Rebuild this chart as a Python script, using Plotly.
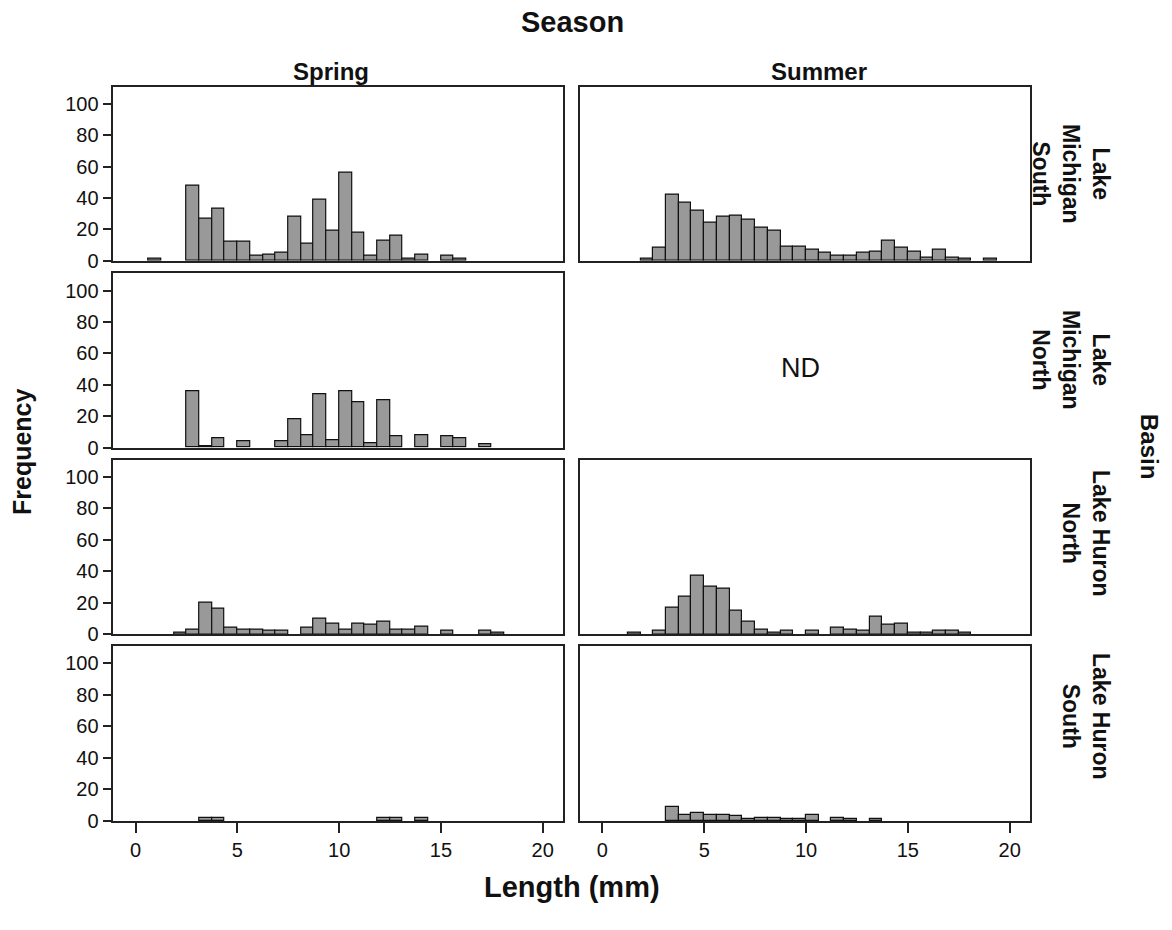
import plotly.graph_objects as go
from plotly.subplots import make_subplots

# ---------------- data ----------------
# lower edges of the length bins (mm), bin width 0.625 mm
bin_lower = [0.0, 0.625, 1.25, 1.875, 2.5, 3.125, 3.75, 4.375,
             5.0, 5.625, 6.25, 6.875, 7.5, 8.125, 8.75, 9.375,
             10.0, 10.625, 11.25, 11.875, 12.5, 13.125, 13.75, 14.375,
             15.0, 15.625, 16.25, 16.875, 17.5, 18.125, 18.75, 19.375]
bin_width = 0.625

seasons = ["Spring", "Summer"]
basins = ["Lake<br>Michigan<br>South", "Lake<br>Michigan<br>North",
          "Lake Huron<br>North", "Lake Huron<br>South"]

spring_lm_south = [0, 1, 0, 0, 48, 27, 33, 12, 12, 3, 4, 5, 28, 11, 39, 19,
                   56, 18, 3, 13, 16, 1, 4, 0, 3, 1, 0, 0, 0, 0, 0, 0]
summer_lm_south = [0, 0, 0, 1, 8, 42, 37, 32, 24, 28, 29, 26, 21, 19, 9, 9,
                   7, 5, 3, 3, 5, 6, 13, 8, 6, 2, 7, 2, 1, 0, 1, 0]
spring_lm_north = [0, 0, 0, 0, 36, 1, 6, 0, 4, 0, 0, 4, 18, 8, 34, 5,
                   36, 29, 3, 30, 7, 0, 8, 0, 7, 6, 0, 2, 0, 0, 0, 0]
summer_lm_north = None  # no data (ND)
spring_lh_north = [0, 0, 0, 1, 3, 20, 16, 4, 3, 3, 2, 2, 0, 4, 10, 7,
                   3, 7, 6, 8, 3, 3, 5, 0, 2, 0, 0, 2, 1, 0, 0, 0]
summer_lh_north = [0, 0, 1, 0, 2, 17, 24, 37, 30, 29, 15, 8, 3, 1, 2, 0,
                   2, 0, 4, 3, 2, 11, 6, 7, 1, 1, 2, 2, 1, 0, 0, 0]
spring_lh_south = [0, 0, 0, 0, 0, 2, 2, 0, 0, 0, 0, 0, 0, 0, 0, 0,
                   0, 0, 0, 2, 2, 0, 2, 0, 0, 0, 0, 0, 0, 0, 0, 0]
summer_lh_south = [0, 0, 0, 0, 0, 9, 4, 5, 4, 4, 3, 1, 2, 2, 1, 1,
                   4, 0, 2, 1, 0, 1, 0, 0, 0, 0, 0, 0, 0, 0, 0, 0]

x_ticks = [0, 5, 10, 15, 20]
y_ticks = [0, 20, 40, 60, 80, 100]

panel_counts = [
    [spring_lm_south, summer_lm_south],
    [spring_lm_north, summer_lm_north],
    [spring_lh_north, summer_lh_north],
    [spring_lh_south, summer_lh_south],
]

# ---------------- figure ----------------
W, H = 1172, 930
HY = 919.0  # vertical extent used to convert pixel targets to paper fractions
FONT = "Liberation Sans, Arial, sans-serif"
INK = "#111111"

fig = make_subplots(rows=4, cols=2)

col_px = [(113.3, 563.0), (580.0, 1030.0)]
row_px = [(86.7, 260.7), (273.3, 447.7), (459.7, 634.3), (646.0, 821.0)]

for r in range(4):
    for c in range(2):
        counts = panel_counts[r][c]
        if counts is not None:
            xs = [b for b, n in zip(bin_lower, counts) if n > 0]
            ys = [n for n in counts if n > 0]
            fig.add_trace(go.Bar(
                x=xs, y=ys, width=bin_width, offset=0,
                marker=dict(color="#999999", line=dict(color=INK, width=1.2)),
                showlegend=False, hoverinfo="x+y"),
                row=r + 1, col=c + 1)
        idx = r * 2 + c + 1
        xname = "xaxis" if idx == 1 else f"xaxis{idx}"
        yname = "yaxis" if idx == 1 else f"yaxis{idx}"
        x0, x1 = col_px[c]
        y0, y1 = row_px[r]
        fig.layout[xname].update(
            domain=[x0 / W, x1 / W], range=[-1.1, 21.0],
            showline=True, mirror=True, linecolor="#222222", linewidth=1.5,
            showgrid=False, zeroline=False,
            tickvals=x_ticks, ticks="outside" if r == 3 else "",
            ticklen=10, tickwidth=1.5, tickcolor="#222222",
            showticklabels=(r == 3),
            tickfont=dict(family=FONT, size=20, color=INK))
        fig.layout[yname].update(
            domain=[1 - y1 / HY, 1 - y0 / HY], range=[0, 111],
            showline=True, mirror=True, linecolor="#222222", linewidth=1.5,
            showgrid=False, zeroline=False,
            tickvals=y_ticks, ticks="outside" if c == 0 else "",
            ticklen=9, tickwidth=1.5, tickcolor="#222222",
            showticklabels=(c == 0),
            tickfont=dict(family=FONT, size=20, color=INK))

annotations = []
bold = dict(family=FONT, color=INK, weight="bold")


def note(text, xpx, ypx, size, angle=0, weight_bold=True, xanchor="center"):
    f = dict(size=size, **bold) if weight_bold else dict(family=FONT, size=size, color=INK)
    return dict(text=text, x=xpx / W, y=1 - ypx / HY, xref="paper", yref="paper",
                xanchor=xanchor, yanchor="middle", textangle=angle,
                showarrow=False, font=f)


# overall titles
annotations.append(note("Season", 572, 21.5, 29))
annotations.append(note("Length (mm)", 572, 887, 29))
annotations.append(note("Frequency", 22, 452, 25, angle=-90))
annotations.append(note("Basin", 1150, 446, 24, angle=90))

# column headers
header_x = [331, 819]
for c, s in enumerate(seasons):
    annotations.append(note(s, header_x[c], 72, 24))

# row labels (first line nearest the right edge)
row_label_y = [174, 360, 533, 716]
for r, b in enumerate(basins):
    annotations.append(note(b, 1116, row_label_y[r], 23, angle=90, xanchor="right"))

# no-data marker
annotations.append(note("ND", 800, 368, 27, weight_bold=False))

fig.update_layout(
    width=W, height=H,
    margin=dict(l=0, r=0, t=0, b=0),
    paper_bgcolor="white", plot_bgcolor="white",
    bargap=0, annotations=annotations,
    font=dict(family=FONT),
)

fig.write_html("out.html")
